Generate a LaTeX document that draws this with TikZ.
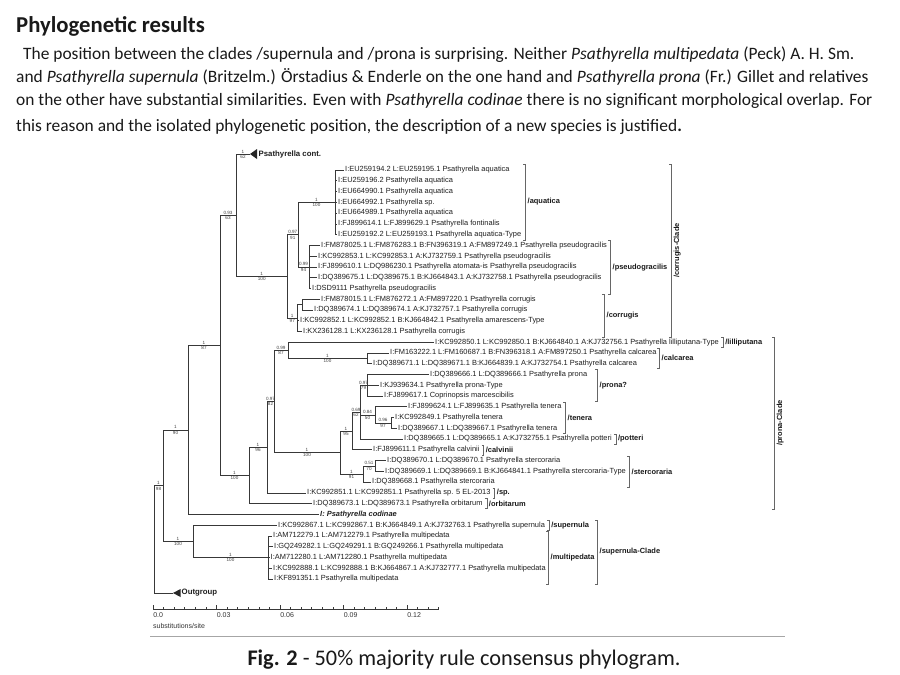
\documentclass[tikz,border=0pt]{standalone}
\usepackage{fontspec}
\setmainfont{Carlito}
\newfontfamily\treefont{Liberation Sans}
\usepackage{tikz}
\usetikzlibrary{calc}
\tikzset{every node/.append style={inner sep=1pt}}
% support values: parent, child, posterior, bootstrap
\newcommand{\supp}[4]{%
  \path ($(#1|-#2)!0.5!(#2)$) node[pp] (#2pp) {#3} node[bs] (#2bs) {#4};}
% bracket over several rows: x, top, bottom, name, label
\newcommand{\clade}[5]{%
  \draw[brk] (#1-2,#2) -- (#1,#2) -- (#1,#3) -- (#1-2,#3);
  \node[clab] (#4) at (#1+1.5,{(#2+#3)/2}) {#5};}
% bracket behind one row: leaf, name, label
\newcommand{\tagclade}[3]{%
  \draw[brk] ([xshift=1pt,yshift=5pt]#1.east) -- ++(2,0) -- ++(0,10) -- ++(-2,0);
  \node[clab] (#2) at ([xshift=4pt]#1.east) {#3};}

\begin{document}
\begin{tikzpicture}[x=1pt, y=-1pt,
    br/.style={draw=black!78, line width=0.55pt},
    tri/.style={fill=black!85},
    leaf/.style={anchor=west, inner sep=1pt, text=black!88,
        font=\treefont\fontsize{7.45}{8}\selectfont},
    pp/.style={anchor=south, inner sep=0.4pt, yshift=0.3pt, text=black!75,
        font=\treefont\fontsize{4.6}{5}\selectfont},
    bs/.style={anchor=north, inner sep=0.4pt, yshift=-0.7pt, text=black!75,
        font=\treefont\fontsize{4.6}{5}\selectfont},
    brk/.style={draw=black!60, line width=0.5pt},
    clab/.style={anchor=west, inner sep=1pt, text=black!90,
        font=\treefont\bfseries\fontsize{7.45}{8}\selectfont},
    body/.style={anchor=base west, inner sep=0pt, text=black!90,
        font=\fontsize{17.4}{20}\selectfont},
    scl/.style={anchor=west, inner sep=0pt, text=black!80,
        font=\treefont\fontsize{7}{8}\selectfont}
]
\fill[white] (0,0) rectangle (900,675);
\useasboundingbox (0,0) rectangle (900,675);
% ===== TEXT =====
\node[body, font=\bfseries\fontsize{22.7}{26}\selectfont] (title) at (16,32) {Phylogenetic results};
\node[body] (p1) at (23,59) {The position between the clades /supernula and /prona is surprising. Neither \textit{Psathyrella multipedata} (Peck) A. H. Sm.};
\node[body] (p2) at (16,82) {and \textit{Psathyrella supernula} (Britzelm.) Örstadius \& Enderle on the one hand and \textit{Psathyrella prona} (Fr.) Gillet and relatives};
\node[body] (p3) at (16,105) {on the other have substantial similarities. Even with \textit{Psathyrella codinae} there is no significant morphological overlap. For};
\node[body] (p4) at (16,131) {this reason and the isolated phylogenetic position, the description of a new species is justified\textbf{.}};
% ===== INTERNAL NODES =====
\coordinate (root)  at (154,539.25);
\coordinate (nA)    at (163,485.5);
\coordinate (nB)    at (188,429.77);
\coordinate (nC)    at (220,345.22);
\coordinate (nD)    at (236,215.13);
\coordinate (nF)    at (287.5,276.26);
\coordinate (nG)    at (298,234.56);
\coordinate (aqua)  at (335,202.28);
\coordinate (pseu)  at (309,266.84);
\coordinate (corr)  at (297,317.95);
\coordinate (corrQ) at (302,304.5);
\coordinate (nE)    at (249,475.32);
\coordinate (nI)    at (267,447.07);
\coordinate (nJ)    at (274,401.34);
\coordinate (nK)    at (288,350.23);
\coordinate (calca) at (367,358.3);
\coordinate (nL)    at (340,452.45);
\coordinate (nN)    at (352,430.93);
\coordinate (nU)    at (360,412.1);
\coordinate (pron)  at (367,385.2);
\coordinate (tene)  at (375,414.79);
\coordinate (teneW) at (391,422.86);
\coordinate (ster)  at (363,473.97);
\coordinate (sterX) at (375,465.9);
\coordinate (supc)  at (193,541.22);
\coordinate (mult)  at (268,557.36);
\coordinate (contT) at (250,154);
\coordinate (outT)  at (173,593);
% ===== LEAVES: corrugis-Clade =====
\node[leaf, font=\treefont\bfseries\fontsize{7.8}{8}\selectfont] (cont) at (257.5,154) {Psathyrella cont.};
\node[leaf] (k0)  at (344,170)    {I:EU259194.2 L:EU259195.1 Psathyrella aquatica};
\node[leaf] (k1)  at (337,180.76) {I:EU259196.2 Psathyrella aquatica};
\node[leaf] (k2)  at (337,191.52) {I:EU664990.1 Psathyrella aquatica};
\node[leaf] (k3)  at (337,202.28) {I:EU664992.1 Psathyrella sp.};
\node[leaf] (k4)  at (337,213.04) {I:EU664989.1 Psathyrella aquatica};
\node[leaf] (k5)  at (337,223.8)  {I:FJ899614.1 L:FJ899629.1 Psathyrella fontinalis};
\node[leaf] (k6)  at (337,234.56) {I:EU259192.2 L:EU259193.1 Psathyrella aquatica-Type};
\node[leaf] (k7)  at (320,245.32) {I:FM878025.1 L:FM876283.1 B:FN396319.1 A:FM897249.1 Psathyrella pseudogracilis};
\node[leaf] (k8)  at (317,256.08) {I:KC992853.1 L:KC992853.1 A:KJ732759.1 Psathyrella pseudogracilis};
\node[leaf] (k9)  at (317,266.84) {I:FJ899610.1 L:DQ986230.1 Psathyrella atomata-is Psathyrella pseudogracilis};
\node[leaf] (k10) at (317,277.6)  {I:DQ389675.1 L:DQ389675.1 B:KJ664843.1 A:KJ732758.1 Psathyrella pseudogracilis};
\node[leaf] (k11) at (311,288.36) {I:DSD9111 Psathyrella pseudogracilis};
\node[leaf] (k12) at (320,299.12) {I:FM878015.1 L:FM876272.1 A:FM897220.1 Psathyrella corrugis};
\node[leaf] (k13) at (313,309.88) {I:DQ389674.1 L:DQ389674.1 A:KJ732757.1 Psathyrella corrugis};
\node[leaf] (k14) at (299,320.64) {I:KC992852.1 L:KC992852.1 B:KJ664842.1 Psathyrella amarescens-Type};
\node[leaf] (k15) at (302,331.4)  {I:KX236128.1 L:KX236128.1 Psathyrella corrugis};
% ===== LEAVES: prona-Clade =====
\node[leaf] (k16) at (434,342.16) {I:KC992850.1 L:KC992850.1 B:KJ664840.1 A:KJ732756.1 Psathyrella lilliputana-Type};
\node[leaf] (k17) at (389,352.92) {I:FM163222.1 L:FM160687.1 B:FN396318.1 A:FM897250.1 Psathyrella calcarea};
\node[leaf] (k18) at (372,363.68) {I:DQ389671.1 L:DQ389671.1 B:KJ664839.1 A:KJ732754.1 Psathyrella calcarea};
\node[leaf] (k19) at (429,374.44) {I:DQ389666.1 L:DQ389666.1 Psathyrella prona};
\node[leaf] (k20) at (379,385.2)  {I:KJ939634.1 Psathyrella prona-Type};
\node[leaf] (k21) at (383,395.96) {I:FJ899617.1 Coprinopsis marcescibilis};
\node[leaf] (k22) at (407,406.72) {I:FJ899624.1 L:FJ899635.1 Psathyrella tenera};
\node[leaf] (k23) at (394,417.48) {I:KC992849.1 Psathyrella tenera};
\node[leaf] (k24) at (397,428.24) {I:DQ389667.1 L:DQ389667.1 Psathyrella tenera};
\node[leaf] (k25) at (403,439)    {I:DQ389665.1 L:DQ389665.1 A:KJ732755.1 Psathyrella potteri};
\node[leaf] (k26) at (372,449.76) {I:FJ899611.1 Psathyrella calvinii};
\node[leaf] (k27) at (386,460.52) {I:DQ389670.1 L:DQ389670.1 Psathyrella stercoraria};
\node[leaf] (k28) at (384,471.28) {I:DQ389669.1 L:DQ389669.1 B:KJ664841.1 Psathyrella stercoraria-Type};
\node[leaf] (k29) at (371,482.04) {I:DQ389668.1 Psathyrella stercoraria};
\node[leaf] (k30) at (306,492.8)  {I:KC992851.1 L:KC992851.1 Psathyrella sp. 5 EL-2013};
\node[leaf] (k31) at (312,503.56) {I:DQ389673.1 L:DQ389673.1 Psathyrella orbitarum};
\node[leaf, font=\treefont\bfseries\itshape\fontsize{7.45}{8}\selectfont] (k32) at (319,514.32) {I: Psathyrella codinae};
% ===== LEAVES: supernula-Clade =====
\node[leaf] (k33) at (277,525.08) {I:KC992867.1 L:KC992867.1 B:KJ664849.1 A:KJ732763.1 Psathyrella supernula};
\node[leaf] (k34) at (272,535.84) {I:AM712279.1 L:AM712279.1 Psathyrella multipedata};
\node[leaf] (k35) at (273,546.6)  {I:GQ249282.1 L:GQ249291.1 B:GQ249266.1 Psathyrella multipedata};
\node[leaf] (k36) at (269.5,557.36) {I:AM712280.1 L:AM712280.1 Psathyrella multipedata};
\node[leaf] (k37) at (272,568.12) {I:KC992888.1 L:KC992888.1 B:KJ664867.1 A:KJ732777.1 Psathyrella multipedata};
\node[leaf] (k38) at (273,578.88) {I:KF891351.1 Psathyrella multipedata};
\node[leaf, font=\treefont\bfseries\fontsize{7.8}{8}\selectfont] (outg) at (180.5,593) {Outgroup};
% ===== BRANCHES =====
\draw[br] (root) |- (nA) (root) |- (outT);
\draw[br] (nA) |- (nB) (nA) |- (supc);
\draw[br] (nB) |- (nC) (nB) |- (k32.west);
\draw[br] (nC) |- (nD) (nC) |- (nE);
\draw[br] (nD) |- (contT) (nD) |- (nF);
\draw[br] (nF) |- (nG) (nF) |- (corr);
\draw[br] (nG) |- (aqua) (nG) |- (pseu);
\draw[br] (aqua) |- (k0.west) (aqua) |- (k1.west) (aqua) |- (k2.west) (aqua) |- (k3.west)
    (aqua) |- (k4.west) (aqua) |- (k5.west) (aqua) |- (k6.west);
\draw[br] (pseu) |- (k7.west) (pseu) |- (k8.west) (pseu) |- (k9.west)
    (pseu) |- (k10.west) (pseu) |- (k11.west);
\draw[br] (corr) |- (corrQ) (corr) |- (k14.west) (corr) |- (k15.west);
\draw[br] (corrQ) |- (k12.west) (corrQ) |- (k13.west);
\draw[br] (nE) |- (nI) (nE) |- (k31.west);
\draw[br] (nI) |- (nJ) (nI) |- (k30.west);
\draw[br] (nJ) |- (nK) (nJ) |- (nL);
\draw[br] (nK) |- (k16.west) (nK) |- (calca);
\draw[br] (calca) |- (k17.west) (calca) |- (k18.west);
\draw[br] (nL) |- (nN) (nL) |- (ster);
\draw[br] (nN) |- (nU) (nN) |- (k26.west);
\draw[br] (nU) |- (pron) (nU) |- (tene) (nU) |- (k25.west);
\draw[br] (pron) |- (k19.west) (pron) |- (k20.west) (pron) |- (k21.west);
\draw[br] (tene) |- (k22.west) (tene) |- (teneW);
\draw[br] (teneW) |- (k23.west) (teneW) |- (k24.west);
\draw[br] (ster) |- (sterX) (ster) |- (k29.west);
\draw[br] (sterX) |- (k27.west) (sterX) |- (k28.west);
\draw[br] (supc) |- (k33.west) (supc) |- (mult);
\draw[br] (mult) |- (k34.west) (mult) |- (k35.west) (mult) |- (k36.west)
    (mult) |- (k37.west) (mult) |- (k38.west);
\fill[tri] (contT) -- ++(7,-5) -- ++(0,10) -- cycle;
\fill[tri] (outT) -- ++(7.5,-4) -- ++(0,8) -- cycle;
% ===== SUPPORT VALUES =====
\supp{nD}{contT}{1}{62}
\supp{nC}{nD}{0.93}{63}
\supp{nD}{nF}{1}{100}
\supp{nF}{nG}{0.97}{91}
\supp{nG}{aqua}{1}{100}
\supp{nG}{pseu}{0.99}{94}
\supp{nF}{corr}{1}{97}
\supp{nB}{nC}{1}{87}
\supp{nC}{nE}{1}{100}
\supp{nE}{nI}{1}{96}
\supp{nI}{nJ}{0.97}{82}
\supp{nJ}{nK}{0.99}{87}
\supp{nK}{calca}{1}{100}
\supp{nJ}{nL}{1}{100}
\supp{nL}{nN}{1}{95}
\supp{nN}{nU}{0.69}{62}
\supp{nU}{pron}{0.97}{79}
\supp{nU}{tene}{0.84}{50}
\supp{tene}{teneW}{0.96}{97}
\supp{nL}{ster}{1}{91}
\supp{ster}{sterX}{0.51}{70}
\supp{nA}{nB}{1}{90}
\supp{root}{nA}{1}{98}
\supp{nA}{supc}{1}{100}
\supp{supc}{mult}{1}{100}
% ===== CLADE BRACKETS =====
\clade{525}{164}{240}{aquaL}{/aquatica}
\clade{610}{240.5}{294}{pseuL}{/pseudogracilis}
\clade{604}{294.5}{337}{corrL}{/corrugis}
\draw[brk] (669,164) -- (671,164) -- (671,337) -- (669,337);
\node[clab, rotate=90, anchor=north] (corrC) at (672.5,250.5) {/corrugis-Clade};
\tagclade{k16}{lillL}{/lilliputana}
\clade{659}{348}{368.5}{calcL}{/calcarea}
\clade{597}{369.5}{401}{pronL}{/prona?}
\clade{565}{402}{433.5}{teneL}{/tenera}
\tagclade{k25}{pottL}{/potteri}
\tagclade{k26}{calvL}{/calvinii}
\clade{629}{456}{487}{sterL}{/stercoraria}
\tagclade{k30}{spL}{/sp.}
\tagclade{k31}{orbiL}{/orbitarum}
\draw[brk] (772,337) -- (774,337) -- (774,509) -- (772,509);
\node[clab, rotate=90, anchor=north] (pronC) at (775.5,423) {/prona-Clade};
\tagclade{k33}{supeL}{/supernula}
\clade{548}{531}{584}{multL}{/multipedata}
\clade{597}{520}{584}{supeC}{/supernula-Clade}
% ===== SCALE BAR =====
\draw[br] (153,609) -- (438.75,609);
\foreach \i in {0,...,27}
  \draw[br] ({153+\i*10.583},609) -- ++(0,-2);
\foreach \i/\t in {0/0.0,1/0.03,2/0.06,3/0.09,4/0.12}
  \draw[br] ({153+\i*63.5},609) -- ++(0,-4)
    node[scl] (s\i) at ({153+\i*63.5},615.5) {\t};
\node[scl] (unit) at (153,626) {substitutions/site};
\draw[draw=black!35, line width=0.9pt] (150,636.5) -- (785,636.5);
% ===== CAPTION =====
\node[anchor=base, inner sep=0pt, font=\fontsize{22.3}{26}\selectfont, text=black!90] (cap) at (464,665)
    {\textbf{Fig. 2} - 50\% majority rule consensus phylogram.};
\end{tikzpicture}
\end{document}
